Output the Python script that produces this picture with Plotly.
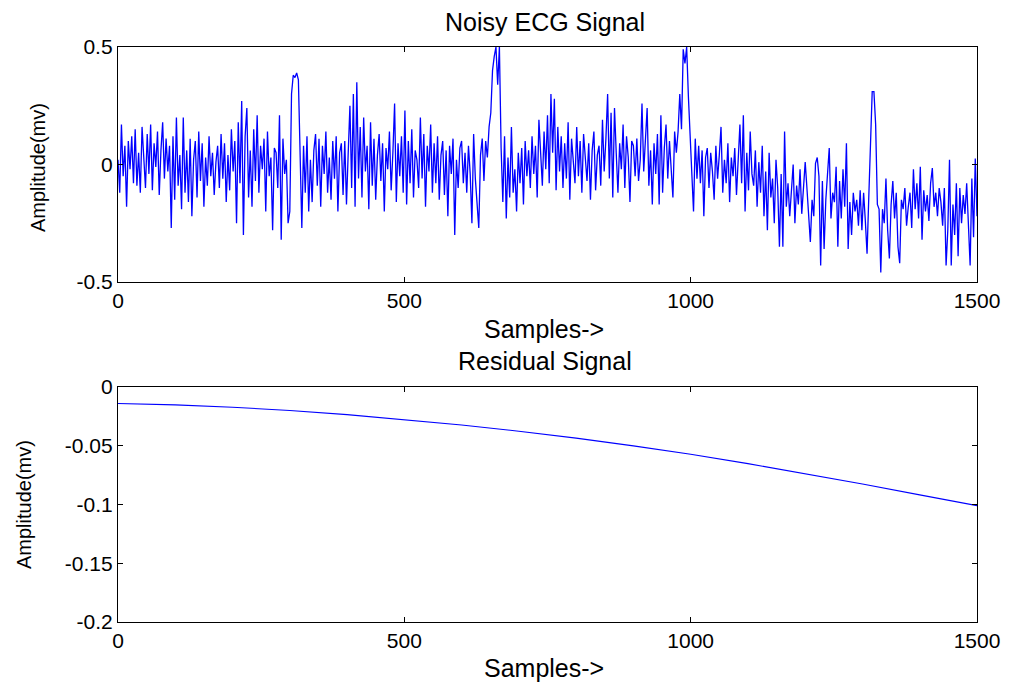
import plotly.graph_objects as go
from plotly.subplots import make_subplots

# Noisy ECG amplitude (mV), one reading every 3 samples from sample 0
ecg_step = 3
ecg_mv = [
    # 0 - 297
    0.02, -0.12, 0.17, -0.05, 0.08, -0.18, 0.10, -0.02, 0.12, -0.08,
    0.15, -0.09, 0.05, -0.12, 0.16, 0.02, -0.10, 0.13, -0.04, 0.17,
    -0.11, 0.09, -0.01, 0.14, -0.13, 0.06, 0.18, -0.06, 0.11, -0.03,
    0.08, -0.27, 0.12, -0.15, 0.20, -0.09, 0.04, -0.19, 0.20, -0.12,
    0.06, -0.16, 0.11, -0.22, 0.02, 0.10, -0.14, 0.14, -0.07, 0.09,
    -0.18, 0.03, -0.09, 0.12, -0.05, 0.05, -0.13, 0.01, 0.08, -0.10,
    0.13, -0.06, 0.09, -0.16, 0.04, -0.11, 0.15, -0.03, 0.10, -0.25,
    0.18, -0.08, 0.27, -0.30, 0.12, 0.24, -0.14, 0.06, -0.18, 0.15,
    -0.07, 0.21, -0.12, 0.08, -0.02, 0.11, -0.20, 0.14, -0.05, 0.03,
    -0.28, 0.07, 0.05, -0.10, 0.21, -0.32, 0.11, -0.04, 0.02, -0.25,
    # 300 - 597
    -0.20, 0.30, 0.38, 0.37, 0.39, 0.36, 0.05, -0.27, 0.08, -0.12,
    0.12, -0.20, 0.02, -0.16, 0.06, 0.13, -0.09, 0.11, -0.18, 0.08,
    -0.04, 0.14, -0.12, 0.03, -0.15, 0.10, -0.06, 0.12, -0.20, 0.05,
    0.09, -0.13, 0.10, -0.17, 0.05, 0.25, -0.10, 0.30, -0.18, 0.35,
    -0.06, 0.16, -0.14, 0.20, -0.03, 0.08, -0.19, 0.18, -0.09, 0.11,
    -0.15, 0.04, 0.13, -0.07, 0.09, -0.20, 0.07, -0.02, 0.14, -0.11,
    0.05, 0.26, -0.16, 0.09, -0.05, 0.12, -0.12, 0.23, -0.17, 0.10,
    -0.08, 0.15, -0.14, 0.06, 0.02, -0.10, 0.20, -0.06, 0.13, -0.18,
    0.08, -0.03, 0.17, -0.12, 0.09, -0.08, 0.12, -0.15, 0.04, 0.10,
    -0.13, 0.06, -0.22, 0.08, -0.04, 0.11, -0.30, 0.02, -0.10, 0.07,
    # 600 - 897
    0.10, -0.08, 0.05, -0.12, 0.08, -0.04, -0.25, 0.13, -0.06, -0.15,
    -0.27, 0.04, 0.11, -0.07, 0.10, 0.03, 0.16, 0.22, 0.40, 0.46,
    0.50, 0.34, 0.50, 0.07, -0.16, 0.12, -0.23, 0.03, -0.14, 0.16,
    -0.12, -0.02, -0.20, 0.05, -0.08, 0.07, -0.17, 0.10, -0.05, 0.06,
    -0.10, 0.12, -0.04, 0.08, -0.14, 0.19, 0.02, -0.09, 0.14, -0.02,
    0.21, -0.08, 0.30, 0.05, 0.28, -0.11, 0.16, -0.03, 0.12, -0.10,
    0.09, -0.06, 0.18, -0.15, 0.11, 0.03, -0.08, 0.16, -0.05, 0.10,
    -0.12, 0.13, 0.02, -0.07, 0.09, -0.15, 0.06, 0.14, -0.11, 0.04,
    0.08, -0.09, 0.19, -0.03, 0.11, 0.30, -0.06, 0.22, -0.14, 0.24,
    0.05, -0.12, 0.09, -0.02, 0.17, -0.10, 0.12, 0.03, -0.16, 0.10,
    # 900 - 1197
    0.08, -0.05, 0.11, -0.07, 0.02, 0.26, -0.03, 0.10, 0.24, -0.09,
    0.06, -0.17, 0.09, -0.04, 0.13, -0.17, 0.21, -0.12, 0.07, 0.17,
    -0.06, 0.10, -0.01, -0.14, 0.14, 0.05, 0.14, 0.30, 0.15, 0.49,
    0.43, 0.50, 0.29, 0.13, -0.10, -0.20, 0.11, -0.06, 0.08, -0.08,
    0.06, -0.22, 0.03, 0.07, -0.10, 0.05, -0.03, -0.15, 0.08, -0.06,
    0.04, 0.16, -0.12, 0.02, -0.08, 0.09, -0.16, 0.03, -0.05, 0.07,
    -0.13, 0.02, 0.17, -0.08, 0.21, -0.20, 0.05, -0.11, 0.14, -0.04,
    -0.09, 0.06, -0.18, 0.01, -0.12, 0.08, -0.22, -0.03, -0.28, 0.05,
    -0.14, -0.06, -0.25, 0.02, -0.10, -0.35, -0.04, -0.35, 0.14, -0.18,
    -0.08, -0.22, -0.12, 0.00, -0.25, -0.09, -0.17, -0.02, -0.21, -0.11,
    # 1200 - 1500
    0.01, -0.10, -0.20, -0.33, -0.15, -0.22, 0.005, 0.03, -0.05, -0.43,
    -0.07, -0.36, -0.15, -0.03, 0.07, -0.23, -0.12, -0.16, -0.01, -0.35,
    -0.07, -0.23, -0.02, -0.18, 0.09, -0.36, -0.16, -0.30, -0.12, -0.20,
    -0.15, -0.26, -0.11, -0.28, -0.12, -0.24, -0.38, -0.14, 0.13, 0.31,
    0.31, 0.17, -0.17, -0.19, -0.46, -0.19, -0.25, -0.06, -0.28, -0.40,
    -0.17, -0.07, -0.23, -0.12, -0.35, -0.42, -0.15, -0.19, -0.10, -0.26,
    -0.18, -0.12, -0.27, -0.02, -0.19, -0.08, -0.23, -0.01, -0.32, -0.11,
    -0.20, -0.13, -0.24, -0.08, -0.015, -0.18, -0.12, -0.22, -0.10, -0.16,
    -0.26, -0.10, -0.43, -0.28, 0.02, -0.43, -0.17, -0.30, -0.08, -0.39,
    -0.10, -0.25, -0.13, -0.21, -0.08, -0.30, -0.43, -0.06, -0.31, 0.025,
    -0.22,
]
ecg_samples = list(range(0, ecg_step * len(ecg_mv), ecg_step))

# Residual (baseline) signal, mV
residual_samples = [0, 100, 200, 300, 400, 500, 600, 700, 800, 900,
                    1000, 1100, 1200, 1300, 1400, 1500]
residual_mv = [-0.0140, -0.0152, -0.0172, -0.0200, -0.0235, -0.0276, -0.0323, -0.0376,
               -0.0435, -0.0501, -0.0573, -0.0652, -0.0737, -0.0826, -0.0918, -0.1010]

x_ticks = [0, 500, 1000, 1500]
top_y_ticks = [-0.5, 0, 0.5]
top_y_labels = ["-0.5", "0", "0.5"]
bottom_y_ticks = [-0.2, -0.15, -0.1, -0.05, 0]
bottom_y_labels = ["-0.2", "-0.15", "-0.1", "-0.05", "0"]

W, H = 1013, 686
FONT = "Liberation Sans, Arial, sans-serif"
TICK_FS = 21
TITLE_FS = 25
YLABEL_FS = 20

fig = make_subplots(rows=2, cols=1, vertical_spacing=0.0)

fig.add_trace(go.Scatter(x=ecg_samples, y=ecg_mv, mode="lines",
                         line=dict(color="#0000ff", width=1.3)), row=1, col=1)
fig.add_trace(go.Scatter(x=residual_samples, y=residual_mv, mode="lines",
                         line=dict(color="#0000ff", width=1.1)), row=2, col=1)

axis_common = dict(showgrid=False, zeroline=False, showline=True, linecolor="black",
                   linewidth=1.3, mirror="allticks", ticks="inside", ticklen=5,
                   tickcolor="black", tickwidth=1,
                   tickfont=dict(family=FONT, size=TICK_FS, color="black"))

fig.update_xaxes(range=[0, 1500], tickvals=x_ticks, **axis_common)
fig.update_yaxes(range=[-0.5, 0.5], tickvals=top_y_ticks, ticktext=top_y_labels,
                 row=1, col=1, **axis_common)
fig.update_yaxes(range=[-0.2, 0], tickvals=bottom_y_ticks, ticktext=bottom_y_labels,
                 row=2, col=1, **axis_common)

ml, mr, mt, mb = 118, 36, 47, 64
ph = H - mt - mb
top_dom = [1 - 235 / ph, 1]
bot_dom = [0, 1 - 340 / ph]
fig.update_layout(yaxis=dict(domain=top_dom), yaxis2=dict(domain=bot_dom),
                  xaxis=dict(anchor="y"), xaxis2=dict(anchor="y2"))


def py(y_px):
    # pixel row from the top of the page -> paper coordinate
    return 1 - (y_px - mt) / ph


def px(x_px):
    return (x_px - ml) / (W - ml - mr)


labels = [
    ("Noisy ECG Signal", px(545), py(22), 0, TITLE_FS),
    ("Samples->", px(544), py(329), 0, TITLE_FS),
    ("Residual Signal", px(545), py(361), 0, TITLE_FS),
    ("Samples->", px(544), py(668), 0, TITLE_FS),
    ("Amplitude(mv)", px(38), py(168), -90, YLABEL_FS),
    ("Amplitude(mv)", px(24), py(505), -90, YLABEL_FS),
]
for txt, ax_, ay_, ang, fs in labels:
    fig.add_annotation(text=txt, x=ax_, y=ay_, xref="paper", yref="paper",
                       showarrow=False, textangle=ang,
                       font=dict(family=FONT, size=fs, color="black"),
                       xanchor="center", yanchor="middle")

fig.update_layout(width=W, height=H, margin=dict(l=ml, r=mr, t=mt, b=mb),
                  paper_bgcolor="white", plot_bgcolor="white", showlegend=False)

fig.write_html("out.html")
